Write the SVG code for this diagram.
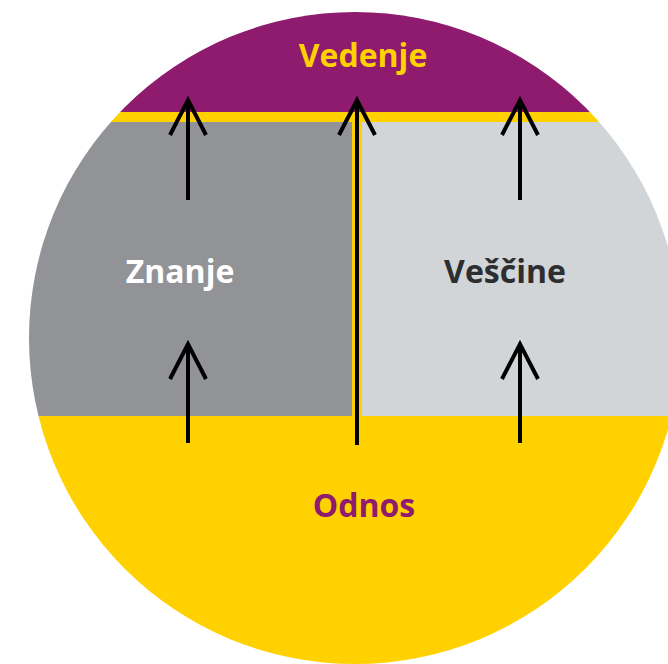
<svg xmlns="http://www.w3.org/2000/svg" width="668" height="664" viewBox="0 0 668 664">
  <defs>
    <clipPath id="disc">
      <circle cx="355" cy="338" r="326"/>
    </clipPath>
    <!-- open V arrowhead, tip at the line end -->
    <marker id="head" viewBox="-40 -22 46 44" refX="0" refY="0" markerWidth="46" markerHeight="44" markerUnits="userSpaceOnUse" orient="auto" overflow="visible">
      <path d="M-35,-18 L0,0 L-35,18" fill="none" stroke="#000" stroke-width="4"/>
    </marker>
  </defs>
  <style>
    .lbl { font-family: "Open Sans", "Noto Sans", "Liberation Sans", sans-serif; font-weight: 700; font-size: 32px; text-anchor: middle; }
    .arrow { stroke: #000; stroke-width: 4; fill: none; }
  </style>

  <rect width="668" height="664" fill="#fff"/>

  <g clip-path="url(#disc)">
    <!-- Vedenje band -->
    <g id="vedenje">
      <rect x="0" y="0" width="668" height="112" fill="#8f1b6e"/>
      <rect x="0" y="112" width="668" height="10" fill="#ffd100"/>
    </g>
    <!-- Znanje block -->
    <g id="znanje">
      <rect x="0" y="122" width="352" height="294" fill="#929396"/>
    </g>
    <!-- divider -->
    <rect x="352" y="122" width="10" height="294" fill="#ffd100"/>
    <!-- Veščine block -->
    <g id="vescine">
      <rect x="362" y="122" width="306" height="294" fill="#d1d5d8"/>
    </g>
    <!-- Odnos base -->
    <g id="odnos">
      <rect x="0" y="416" width="668" height="248" fill="#ffd100"/>
    </g>
  </g>

  <text class="lbl" x="363" y="67" fill="#ffd100">Vedenje</text>
  <text class="lbl" x="180" y="283" fill="#ffffff">Znanje</text>
  <text class="lbl" x="505" y="283" fill="#2d2e30">Veščine</text>
  <text class="lbl" x="364" y="517" fill="#8f1b6e">Odnos</text>

  <g id="connectors">
    <line class="arrow" x1="188" y1="200" x2="188" y2="100" marker-end="url(#head)"/>
    <line class="arrow" x1="357" y1="445" x2="357" y2="100" marker-end="url(#head)"/>
    <line class="arrow" x1="520" y1="200" x2="520" y2="100" marker-end="url(#head)"/>
    <line class="arrow" x1="188" y1="443" x2="188" y2="344" marker-end="url(#head)"/>
    <line class="arrow" x1="520" y1="443" x2="520" y2="344" marker-end="url(#head)"/>
  </g>
</svg>
